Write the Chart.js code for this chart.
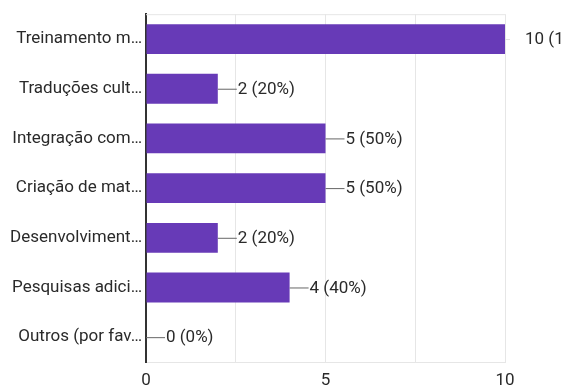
<!DOCTYPE html>
<html>
<head>
<meta charset="utf-8">
<script src="https://cdn.jsdelivr.net/npm/chart.js@4.4.1/dist/chart.umd.min.js"></script>
<style>
  html, body { margin: 0; padding: 0; background: #fff; }
  #wrap { width: 562px; height: 389px; }
</style>
</head>
<body>
<div id="wrap"><canvas id="chart"></canvas></div>
<script>
const categories = [
    "Treinamento m\u2026",
    "Traduções cult\u2026",
    "Integração com\u2026",
    "Criação de mat\u2026",
    "Desenvolviment\u2026",
    "Pesquisas adici\u2026",
    "Outros (por fav\u2026"
];
const counts = [10, 2, 5, 5, 2, 4, 0];
const percents = [100, 20, 50, 50, 20, 40, 0];
const xTicks = [0, 5, 10];

const textColor = "#2a2a2a";
const fontFamily = "Roboto, 'Noto Sans', sans-serif";

// draws the "—2 (20%)" labels next to each bar
const valueLabels = {
    id: "valueLabels",
    afterDatasetsDraw(chart) {
        const ctx = chart.ctx;
        const xScale = chart.scales.x;
        const meta = chart.getDatasetMeta(0);
        ctx.save();
        ctx.font = "17px " + fontFamily;
        ctx.textBaseline = "middle";
        ctx.fillStyle = textColor;
        meta.data.forEach((bar, i) => {
            const x = xScale.getPixelForValue(counts[i]);
            const y = bar.y;
            // leader is barely visible when it sits outside the plot area
            ctx.strokeStyle = x >= chart.chartArea.right - 1 ? "#e0e0e0" : "#666666";
            ctx.lineWidth = 1;
            ctx.beginPath();
            ctx.moveTo(x, y + 0.5);
            ctx.lineTo(x + (x >= chart.chartArea.right - 1 ? 5 : 19), y + 0.5);
            ctx.stroke();
            ctx.fillText(counts[i] + " (" + percents[i] + "%)", x + 20, y + 1);
        });
        ctx.restore();
    }
};

// light frame line at the top of the plot area
const topFrame = {
    id: "topFrame",
    beforeDatasetsDraw(chart) {
        const a = chart.chartArea;
        const ctx = chart.ctx;
        ctx.save();
        ctx.strokeStyle = "#e6e6e6";
        ctx.lineWidth = 1;
        ctx.beginPath();
        ctx.moveTo(a.left, a.top + 0.5);
        ctx.lineTo(a.right, a.top + 0.5);
        ctx.stroke();
        ctx.restore();
    }
};

new Chart(document.getElementById("chart"), {
    type: "bar",
    data: {
        labels: categories,
        datasets: [{
            data: counts,
            backgroundColor: "#673ab7",
            barPercentage: 0.6,
            categoryPercentage: 1
        }]
    },
    options: {
        indexAxis: "y",
        responsive: true,
        maintainAspectRatio: false,
        animation: false,
        layout: { padding: { top: 10, right: 57, left: 0, bottom: 0 } },
        plugins: {
            legend: { display: false },
            tooltip: { enabled: false }
        },
        scales: {
            x: {
                min: 0,
                max: 10,
                afterBuildTicks(scale) {
                    scale.ticks = [0, 2.5, 5, 7.5, 10].map(v => ({ value: v }));
                },
                afterFit(scale) { scale.height = 27; },
                grid: { color: "#e6e6e6", drawTicks: false },
                border: { color: "#e6e6e6" },
                ticks: {
                    padding: 9,
                    color: textColor,
                    font: { size: 17, family: fontFamily },
                    callback: v => xTicks.includes(v) ? String(v) : ""
                }
            },
            y: {
                afterFit(scale) { scale.width = 146; },
                grid: { display: false, drawTicks: false },
                border: { color: "#333333", width: 2 },
                ticks: {
                    padding: 4,
                    color: textColor,
                    font: { size: 17, family: fontFamily }
                }
            }
        }
    },
    plugins: [valueLabels, topFrame]
});
</script>
</body>
</html>
